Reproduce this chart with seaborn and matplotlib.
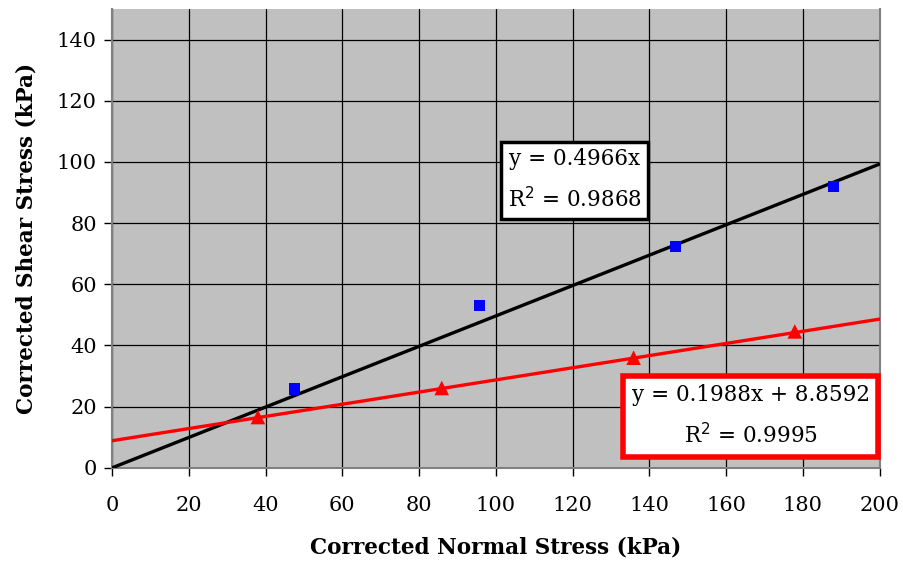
import numpy as np
import pandas as pd
import matplotlib
matplotlib.use("Agg")
import matplotlib.pyplot as plt
import seaborn as sns

# Data
blue_x = [47.5, 95.7, 146.9, 188.0]
blue_y = [25.8, 53.2, 72.4, 92.1]
red_x = [38.0, 85.9, 135.9, 177.9]
red_y = [16.6, 26.1, 36.0, 44.6]
fit_x = [0, 200]
blue_slope = 0.4966
red_slope, red_int = 0.1988, 8.8592
blue_label = "y = 0.4966x\nR$^2$ = 0.9868"
red_label = "y = 0.1988x + 8.8592\nR$^2$ = 0.9995"
xticks = list(range(0, 201, 20))
yticks = list(range(0, 141, 20))

sns.set_theme(style="white")
plt.rcParams['font.family'] = ['DejaVu Serif']
plt.rcParams['text.color'] = 'black'
plt.rcParams['axes.labelcolor'] = 'black'

fig = plt.figure(figsize=(9.04, 5.65), dpi=100)
ax = fig.add_axes([0.124, 0.172, 0.849, 0.812])
ax.set_facecolor("#C0C0C0")

fit_df = pd.DataFrame({
    "x": fit_x + fit_x,
    "y": [blue_slope * v for v in fit_x] + [red_slope * v + red_int for v in fit_x],
    "s": ["b", "b", "r", "r"],
})
sns.lineplot(data=fit_df[fit_df.s == "b"], x="x", y="y", color="black", lw=2.4, ax=ax, zorder=3)
sns.lineplot(data=fit_df[fit_df.s == "r"], x="x", y="y", color="#FF0000", lw=2.4, ax=ax, zorder=3)

sns.scatterplot(x=blue_x, y=blue_y, marker="s", color="#0000FF", s=65, edgecolor="none", ax=ax, zorder=4)
sns.scatterplot(x=red_x, y=red_y, marker="^", color="#FF0000", s=110, edgecolor="none", ax=ax, zorder=4)

ax.set_xlim(0, 200)
ax.set_ylim(0, 150)
ax.set_xticks(xticks)
ax.set_yticks(yticks)
ax.grid(True, color="black", lw=0.9)
ax.set_axisbelow(True)
ax.spines["top"].set_visible(False)
ax.spines["right"].set_color("#808080")
ax.spines["right"].set_linewidth(1.5)
for s in ["left", "bottom"]:
    ax.spines[s].set_color("#808080")
    ax.spines[s].set_linewidth(1.5)

ax.tick_params(axis="both", direction="out", length=6, width=1, color="black",
               labelsize=15, labelcolor="black", bottom=True, left=True)
ax.tick_params(axis="x", pad=14)
ax.tick_params(axis="y", pad=5)

ax.set_xlabel("Corrected Normal Stress (kPa)", fontsize=15.5, fontweight="bold", labelpad=16)
ax.set_ylabel("Corrected Shear Stress (kPa)", fontsize=15.5, fontweight="bold", labelpad=14)

ax.text(120.6, 94.0, blue_label, ha="center", va="center", fontsize=15.5, linespacing=1.85,
        bbox=dict(boxstyle="square,pad=0.3", fc="white", ec="black", lw=2.5), zorder=5)
ax.text(166.4, 16.8, red_label, ha="center", va="center", fontsize=15.5, linespacing=1.85,
        bbox=dict(boxstyle="square,pad=0.4", fc="white", ec="#FF0000", lw=4), zorder=5)

fig.savefig("out.png", dpi=100)
